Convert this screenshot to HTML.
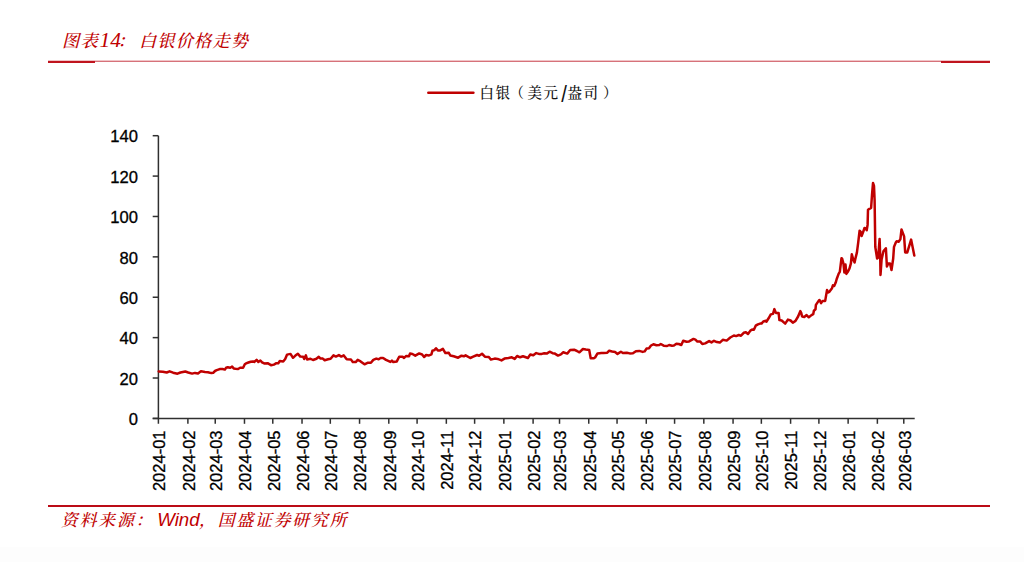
<!DOCTYPE html>
<html><head><meta charset="utf-8">
<style>
html,body{margin:0;padding:0;}
body{width:1024px;height:562px;position:relative;overflow:hidden;background:#fff;}
.bg{position:absolute;left:0;top:547px;width:1024px;height:15px;background:#fdfdfd;}
.hl{position:absolute;}
.title{font-weight:500;position:absolute;left:62px;top:27.5px;font-family:"Liberation Serif","Noto Serif CJK SC",serif;font-style:italic;font-size:17.3px;letter-spacing:1.1px;color:#c00000;white-space:nowrap;line-height:24px;}
.title b{font-weight:normal;font-size:21.5px;margin-left:0.8px;margin-right:-3.5px;letter-spacing:0;}
.src{font-weight:500;position:absolute;left:61px;top:507.8px;font-family:"Liberation Serif","Noto Serif CJK SC",serif;font-style:italic;font-size:16.8px;letter-spacing:1.87px;color:#c00000;white-space:nowrap;line-height:24px;}
.src .w{font-family:"Liberation Sans",sans-serif;font-size:18.67px;letter-spacing:0;font-weight:normal;margin-left:3px;margin-right:-0.5px;}
.leg{position:absolute;left:479.5px;top:82px;letter-spacing:1.5px;font-family:"Liberation Serif","Noto Serif CJK SC",serif;font-size:14.5px;color:#111;font-weight:500;white-space:nowrap;line-height:20px;}
.sl{display:inline-block;width:8px;text-align:center;font-family:"Liberation Sans",sans-serif;font-weight:normal;font-size:18.5px;position:relative;top:2px;letter-spacing:0;transform:scale(1.1,1.3);}
svg{position:absolute;left:0;top:0;}
</style></head><body>
<div class="bg"></div>
<div class="title">图表<b>14</b>：<span style="margin-left:3px">白银价格走势</span></div>
<div class="hl" style="left:48px;top:60px;width:942px;height:1px;background:#f0c4c7"></div>
<div class="hl" style="left:48px;top:61px;width:942px;height:1px;background:#d6727a"></div>
<div class="hl" style="left:48px;top:61px;width:47px;height:2px;background:#c0141e"></div>
<div class="hl" style="left:941px;top:61px;width:49px;height:2px;background:#c0141e"></div>
<div class="hl" style="left:48px;top:505px;width:942px;height:2px;background:#bb0c16"></div>
<div class="src">资料来源：<span class="w">Wind</span>，国盛证券研究所</div>
<div class="leg">白银<span style="position:relative;left:-2px">（</span>美元<span class="sl">/</span>盎司<span style="position:relative;left:3.5px">）</span></div>
<svg width="1024" height="562" viewBox="0 0 1024 562">
<line x1="428.3" y1="92.8" x2="473.4" y2="92.8" stroke="#c00000" stroke-width="2.5" stroke-linecap="round"/>
<g stroke="#303030" stroke-width="1.5" fill="none">
<line x1="158.4" y1="135.7" x2="158.4" y2="423.8"/>
<line x1="152.7" y1="418.4" x2="914.7" y2="418.4"/>
<line x1="152.7" y1="418.40" x2="158.4" y2="418.40"/>
<line x1="152.7" y1="378.01" x2="158.4" y2="378.01"/>
<line x1="152.7" y1="337.63" x2="158.4" y2="337.63"/>
<line x1="152.7" y1="297.24" x2="158.4" y2="297.24"/>
<line x1="152.7" y1="256.86" x2="158.4" y2="256.86"/>
<line x1="152.7" y1="216.47" x2="158.4" y2="216.47"/>
<line x1="152.7" y1="176.09" x2="158.4" y2="176.09"/>
<line x1="152.7" y1="135.70" x2="158.4" y2="135.70"/>
<line x1="187.89" y1="418.4" x2="187.89" y2="423.8"/>
<line x1="215.24" y1="418.4" x2="215.24" y2="423.8"/>
<line x1="244.48" y1="418.4" x2="244.48" y2="423.8"/>
<line x1="272.78" y1="418.4" x2="272.78" y2="423.8"/>
<line x1="302.02" y1="418.4" x2="302.02" y2="423.8"/>
<line x1="330.31" y1="418.4" x2="330.31" y2="423.8"/>
<line x1="359.55" y1="418.4" x2="359.55" y2="423.8"/>
<line x1="388.79" y1="418.4" x2="388.79" y2="423.8"/>
<line x1="417.09" y1="418.4" x2="417.09" y2="423.8"/>
<line x1="446.33" y1="418.4" x2="446.33" y2="423.8"/>
<line x1="474.62" y1="418.4" x2="474.62" y2="423.8"/>
<line x1="503.86" y1="418.4" x2="503.86" y2="423.8"/>
<line x1="533.10" y1="418.4" x2="533.10" y2="423.8"/>
<line x1="559.51" y1="418.4" x2="559.51" y2="423.8"/>
<line x1="588.75" y1="418.4" x2="588.75" y2="423.8"/>
<line x1="617.05" y1="418.4" x2="617.05" y2="423.8"/>
<line x1="646.28" y1="418.4" x2="646.28" y2="423.8"/>
<line x1="674.58" y1="418.4" x2="674.58" y2="423.8"/>
<line x1="703.82" y1="418.4" x2="703.82" y2="423.8"/>
<line x1="733.06" y1="418.4" x2="733.06" y2="423.8"/>
<line x1="761.35" y1="418.4" x2="761.35" y2="423.8"/>
<line x1="790.59" y1="418.4" x2="790.59" y2="423.8"/>
<line x1="818.89" y1="418.4" x2="818.89" y2="423.8"/>
<line x1="848.13" y1="418.4" x2="848.13" y2="423.8"/>
<line x1="877.37" y1="418.4" x2="877.37" y2="423.8"/>
<line x1="903.78" y1="418.4" x2="903.78" y2="423.8"/>
</g>
<g font-family="Liberation Sans, sans-serif" font-size="16" fill="#000" stroke="#000" stroke-width="0.3">
<text x="138" y="425.10" text-anchor="end" font-size="16.6">0</text>
<text x="138" y="384.71" text-anchor="end" font-size="16.6">20</text>
<text x="138" y="344.33" text-anchor="end" font-size="16.6">40</text>
<text x="138" y="303.94" text-anchor="end" font-size="16.6">60</text>
<text x="138" y="263.56" text-anchor="end" font-size="16.6">80</text>
<text x="138" y="223.17" text-anchor="end" font-size="16.6">100</text>
<text x="138" y="182.79" text-anchor="end" font-size="16.6">120</text>
<text x="138" y="142.40" text-anchor="end" font-size="16.6">140</text>
<text transform="translate(165.40,430.5) rotate(-90)" text-anchor="end" font-size="16.5">2024-01</text>
<text transform="translate(194.64,430.5) rotate(-90)" text-anchor="end" font-size="16.5">2024-02</text>
<text transform="translate(221.99,430.5) rotate(-90)" text-anchor="end" font-size="16.5">2024-03</text>
<text transform="translate(251.23,430.5) rotate(-90)" text-anchor="end" font-size="16.5">2024-04</text>
<text transform="translate(279.53,430.5) rotate(-90)" text-anchor="end" font-size="16.5">2024-05</text>
<text transform="translate(308.77,430.5) rotate(-90)" text-anchor="end" font-size="16.5">2024-06</text>
<text transform="translate(337.06,430.5) rotate(-90)" text-anchor="end" font-size="16.5">2024-07</text>
<text transform="translate(366.30,430.5) rotate(-90)" text-anchor="end" font-size="16.5">2024-08</text>
<text transform="translate(395.54,430.5) rotate(-90)" text-anchor="end" font-size="16.5">2024-09</text>
<text transform="translate(423.84,430.5) rotate(-90)" text-anchor="end" font-size="16.5">2024-10</text>
<text transform="translate(453.08,430.5) rotate(-90)" text-anchor="end" font-size="16.5">2024-11</text>
<text transform="translate(481.37,430.5) rotate(-90)" text-anchor="end" font-size="16.5">2024-12</text>
<text transform="translate(510.61,430.5) rotate(-90)" text-anchor="end" font-size="16.5">2025-01</text>
<text transform="translate(539.85,430.5) rotate(-90)" text-anchor="end" font-size="16.5">2025-02</text>
<text transform="translate(566.26,430.5) rotate(-90)" text-anchor="end" font-size="16.5">2025-03</text>
<text transform="translate(595.50,430.5) rotate(-90)" text-anchor="end" font-size="16.5">2025-04</text>
<text transform="translate(623.80,430.5) rotate(-90)" text-anchor="end" font-size="16.5">2025-05</text>
<text transform="translate(653.03,430.5) rotate(-90)" text-anchor="end" font-size="16.5">2025-06</text>
<text transform="translate(681.33,430.5) rotate(-90)" text-anchor="end" font-size="16.5">2025-07</text>
<text transform="translate(710.57,430.5) rotate(-90)" text-anchor="end" font-size="16.5">2025-08</text>
<text transform="translate(739.81,430.5) rotate(-90)" text-anchor="end" font-size="16.5">2025-09</text>
<text transform="translate(768.10,430.5) rotate(-90)" text-anchor="end" font-size="16.5">2025-10</text>
<text transform="translate(797.34,430.5) rotate(-90)" text-anchor="end" font-size="16.5">2025-11</text>
<text transform="translate(825.64,430.5) rotate(-90)" text-anchor="end" font-size="16.5">2025-12</text>
<text transform="translate(854.88,430.5) rotate(-90)" text-anchor="end" font-size="16.5">2026-01</text>
<text transform="translate(884.12,430.5) rotate(-90)" text-anchor="end" font-size="16.5">2026-02</text>
<text transform="translate(910.53,430.5) rotate(-90)" text-anchor="end" font-size="16.5">2026-03</text>
</g>
<path d="M158.7,371.5 L162.8,371.7 L166.7,372.5 L169.6,371.3 L173.1,372.7 L177.5,373.7 L180.4,372.5 L185.3,371.5 L188.2,372.5 L192.1,373.6 L195,372.9 L198,373.4 L200.9,371.3 L205,371.9 L207.9,372.2 L211.4,373.1 L213.2,372.8 L215,371 L216.7,370.2 L219.1,369.3 L220.5,368.9 L222.6,369 L224.9,369.6 L226.1,367.8 L227.8,367.3 L230.2,367.8 L232.1,366.6 L233.7,368.4 L235.5,368.7 L238.1,369 L240.1,367.8 L243.1,367.8 L244.8,364.3 L246,363.4 L248.4,362.5 L250.7,361.7 L253,361.4 L254.2,362 L256.6,359.9 L258.3,362 L260.4,360.5 L262.1,362.3 L264.2,363.4 L267.6,363.2 L271,365.2 L273.9,364.6 L276.4,363.2 L278.3,363.2 L279.8,361 L283.2,361.5 L285.2,359 L287.1,354.6 L290.5,353.9 L293,357.8 L295.4,355.6 L297.9,353.7 L300.3,356.6 L303.2,356.8 L304.2,359 L305.9,355.4 L307.1,359.5 L310.5,358.75 L313,360 L316.4,358.75 L318.8,356.8 L320.3,358.4 L322.8,358.6 L324.7,360.3 L328.1,359.3 L330.6,358.75 L333.5,355.4 L335.9,356.6 L338.9,355.1 L341.3,356.6 L343.75,355.4 L346.7,359.3 L350.9,359.4 L352.8,362.1 L355.7,362.1 L357.7,359.9 L360.6,361.4 L364.5,364.3 L367.5,362.8 L370.9,362.8 L373.3,359.9 L376.25,358.6 L378.7,359.2 L380.6,358 L383.1,358 L386,359.9 L390.4,361.9 L391.9,360.6 L393.3,362.1 L396.8,361.4 L399.2,356.7 L402.6,356.7 L404.1,358 L406,356 L409,356.3 L410,353.6 L412.4,354 L415.3,355.7 L419.2,353.4 L422.1,354.5 L424.1,357 L426.1,355 L429,355.5 L431.4,354.3 L432.4,350.8 L434.4,350.1 L436,348.2 L437.8,350.4 L440.2,350.4 L442.9,348.9 L445.4,353.1 L448.8,352.8 L450.3,355.5 L453.7,356.3 L458.1,357.7 L461.5,355.7 L463.9,356.3 L465.6,355.3 L470.3,358 L473.2,356.7 L477.1,355 L479.1,355.7 L482,353.75 L484.9,356.7 L488.8,357 L490.8,359.6 L494.7,358.6 L497.6,358.9 L501.5,360.4 L504.5,358.6 L508.4,358 L511.8,357.3 L514.7,358.9 L517.1,356 L520.1,357.3 L523,356.3 L527.9,358 L530.3,354.5 L533.3,355.3 L536.2,353.1 L538.9,353.9 L541.8,353.9 L544.3,353.2 L546.7,353.6 L549.6,351.7 L552.6,353.2 L554.5,353.4 L558,355.6 L560.9,354.4 L563.3,352.3 L567.2,353.6 L570.2,350 L574.1,349.7 L577,351 L579.4,352.3 L582.9,349 L585.8,349.5 L589.2,350 L590.7,358.3 L593.6,358.3 L595.1,357.5 L597.5,353.4 L601.4,353 L603.4,353 L607.3,352.7 L609.2,350.7 L612.1,351.5 L615.1,352 L617.5,353.9 L620.9,351.7 L622.9,353 L626.8,352.7 L629.7,353.4 L632.9,353.3 L635.9,351.2 L639.3,350.9 L642.7,351.9 L644.6,351.4 L646.6,348.6 L649,348.2 L651,345.5 L653.4,344.3 L656.4,345.3 L659.3,345 L660.8,344 L663.7,345.7 L667.1,346 L669.1,345 L672,345.7 L673.9,345.5 L676.4,343.75 L678.8,344 L681.3,345 L683.2,340.8 L686.6,341.8 L689.1,341.4 L693.5,338.9 L695.4,339.6 L697.4,341.6 L700.3,341.6 L702.3,344 L705.2,343.4 L709.1,341.1 L711.5,342.4 L714,340.8 L716.9,342.1 L719.8,342.6 L722.8,339.8 L726.7,340.6 L730.3,337.5 L733.9,335.5 L736.1,336.1 L738.8,335 L741,335.7 L743.7,332.8 L745.9,332.2 L748,334 L750.4,330.6 L752.1,329.5 L753.9,329.7 L755.7,325.7 L757.9,324.4 L760.1,323.6 L761.5,323.6 L763.3,321.5 L765.9,320.8 L766.4,321.7 L768.6,318.3 L770.8,314.4 L773,313.9 L774.4,309.1 L775.9,312.9 L778.6,312.9 L779.4,320 L781.7,320.5 L785.2,323.6 L787.9,319.6 L790.6,320.5 L792.8,322.7 L795.5,320.9 L798.1,316.5 L800.3,311.1 L801.2,312.9 L802.1,316.5 L804.3,316.9 L806.6,315.1 L808.8,317.3 L811.5,315.1 L813.2,314.2 L813.9,310.7 L815.5,309.3 L815.9,304.9 L818.6,300.9 L819.5,300 L821.1,303.1 L822.6,300.9 L825.2,300.9 L827,290.1 L828.2,292.5 L829.2,291.9 L832,288.2 L832.9,285.4 L834.2,286 L835.7,282.6 L836.7,279 L838.7,273.6 L839.8,271.9 L841.5,258.2 L842.1,258.5 L843.5,263.9 L844.4,272.5 L845.5,264.5 L846.4,273.9 L847.8,271.9 L849.5,268.5 L850.9,263.4 L851.8,254.3 L853.2,259.4 L854.6,262.5 L855.2,259.4 L856.9,252.6 L858.2,242.7 L859.6,230.7 L860.9,232.1 L861.6,236.1 L863.1,232.1 L864.5,228 L865.8,228.5 L866.7,230.3 L867.6,224.9 L868,209.8 L869.4,208.9 L871.1,208 L872,195 L873,183 L874,186 L874.6,200 L875.3,247 L877.1,258.5 L878.2,257.6 L879.6,238.9 L880.2,256.7 L880.5,275 L881.6,259.4 L883.4,251.4 L885.9,248.3 L886.9,266.5 L888.3,263.4 L890,263.4 L891.5,270.1 L893.2,258.5 L894,246.9 L895.8,242.5 L896.7,241.2 L898.8,241.7 L900.4,239.1 L901.5,229.5 L904.1,236.4 L905.2,252.4 L907.3,252.4 L911.1,239.6 L914.3,255.6" fill="none" stroke="#c00000" stroke-width="2.5" stroke-linejoin="round" stroke-linecap="round"/>
</svg>
</body></html>
